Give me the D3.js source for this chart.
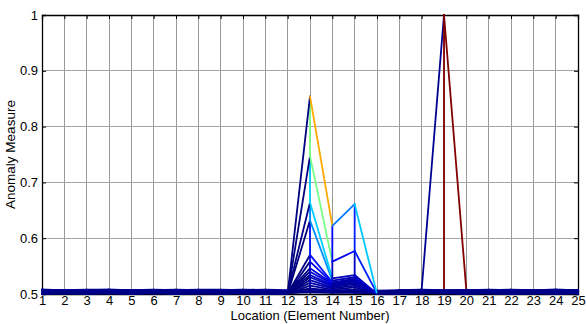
<!DOCTYPE html>
<html>
<head>
<meta charset="utf-8">
<script src="https://cdn.jsdelivr.net/npm/d3@7"></script>
<style>
  html, body { margin: 0; padding: 0; background: #fff; }
  svg { display: block; font-family: "Liberation Sans", Arial, sans-serif; }
</style>
</head>
<body>
<svg id="chart" width="586" height="324"></svg>
<script>
// Element locations along the structure (x axis)
const locations = [1,2,3,4,5,6,7,8,9,10,11,12,13,14,15,16,17,18,19,20,21,22,23,24,25];
const xTickLabels = ["1","2","3","4","5","6","7","8","9","10","11","12","13","14","15","16","17","18","19","20","21","22","23","24","25"];
const yTicks = [0.5, 0.6, 0.7, 0.8, 0.9, 1];
const yTickLabels = ["0.5", "0.6", "0.7", "0.8", "0.9", "1"];

// Anomaly measure per location, one array per time step (mesh rows, in order)
const step01 = [0.506,0.505,0.506,0.505,0.506,0.505,0.506,0.505,0.506,0.505,0.506,0.505,0.505,0.504,0.505,0.504,0.505,0.508,1.000,0.507,0.505,0.506,0.505,0.506,0.505];
const step02 = [0.503,0.502,0.503,0.503,0.502,0.503,0.502,0.503,0.503,0.502,0.503,0.502,0.503,0.502,0.503,0.502,0.503,0.502,0.504,0.502,0.503,0.502,0.503,0.502,0.503];
const step03 = [0.508,0.507,0.508,0.508,0.507,0.508,0.507,0.508,0.508,0.507,0.508,0.507,0.508,0.506,0.507,0.506,0.507,0.507,0.506,0.506,0.507,0.508,0.507,0.508,0.507];
const step04 = [0.500,0.501,0.500,0.501,0.500,0.501,0.500,0.501,0.500,0.501,0.500,0.501,0.505,0.503,0.502,0.501,0.500,0.501,0.502,0.500,0.501,0.500,0.501,0.500,0.501];
const step05 = [0.505,0.506,0.505,0.506,0.505,0.506,0.505,0.506,0.505,0.506,0.505,0.502,0.510,0.506,0.508,0.501,0.505,0.506,0.505,0.506,0.505,0.506,0.505,0.506,0.505];
const step06 = [0.502,0.501,0.502,0.501,0.502,0.501,0.502,0.501,0.502,0.501,0.502,0.501,0.515,0.508,0.512,0.500,0.502,0.501,0.502,0.501,0.502,0.501,0.502,0.501,0.502];
const step07 = [0.507,0.506,0.507,0.507,0.506,0.507,0.506,0.507,0.507,0.506,0.507,0.502,0.520,0.510,0.515,0.501,0.506,0.507,0.506,0.507,0.506,0.507,0.506,0.507,0.506];
const step08 = [0.504,0.504,0.503,0.504,0.504,0.503,0.504,0.504,0.503,0.504,0.504,0.501,0.525,0.512,0.518,0.500,0.504,0.503,0.504,0.504,0.503,0.504,0.504,0.503,0.504];
const step09 = [0.501,0.502,0.501,0.502,0.501,0.502,0.501,0.502,0.501,0.502,0.501,0.500,0.530,0.514,0.520,0.501,0.501,0.502,0.501,0.502,0.501,0.502,0.501,0.502,0.501];
const step10 = [0.506,0.507,0.506,0.507,0.506,0.507,0.506,0.507,0.506,0.507,0.506,0.502,0.534,0.516,0.522,0.500,0.506,0.507,0.506,0.507,0.506,0.507,0.506,0.507,0.506];
const step11 = [0.503,0.503,0.504,0.503,0.503,0.504,0.503,0.503,0.504,0.503,0.503,0.501,0.540,0.518,0.523,0.501,0.503,0.504,0.503,0.503,0.504,0.503,0.503,0.504,0.503];
const step12 = [0.508,0.507,0.507,0.508,0.507,0.507,0.508,0.507,0.507,0.508,0.507,0.502,0.546,0.519,0.524,0.500,0.507,0.508,0.507,0.507,0.508,0.507,0.507,0.508,0.507];
const step13 = [0.502,0.503,0.502,0.503,0.502,0.503,0.502,0.503,0.502,0.503,0.502,0.500,0.558,0.520,0.525,0.501,0.502,0.503,0.502,0.503,0.502,0.503,0.502,0.503,0.502];
const step14 = [0.505,0.505,0.506,0.505,0.505,0.506,0.505,0.505,0.506,0.505,0.505,0.501,0.570,0.521,0.527,0.500,0.505,0.506,0.505,0.505,0.506,0.505,0.505,0.506,0.505];
const step15 = [0.501,0.501,0.502,0.501,0.501,0.502,0.501,0.501,0.502,0.501,0.501,0.500,0.632,0.524,0.530,0.501,0.501,0.502,0.501,0.501,0.502,0.501,0.501,0.502,0.501];
const step16 = [0.507,0.506,0.506,0.507,0.506,0.506,0.507,0.506,0.506,0.507,0.506,0.501,0.664,0.528,0.534,0.500,0.506,0.507,0.506,0.506,0.507,0.506,0.506,0.507,0.506];
const step17 = [0.504,0.503,0.504,0.504,0.503,0.504,0.504,0.503,0.504,0.504,0.503,0.500,0.747,0.558,0.577,0.501,0.504,0.503,0.504,0.504,0.503,0.504,0.504,0.503,0.504];
const step18 = [0.502,0.502,0.503,0.502,0.502,0.503,0.502,0.502,0.503,0.502,0.502,0.501,0.854,0.622,0.661,0.500,0.502,0.503,0.502,0.502,0.503,0.502,0.502,0.503,0.502];

const steps = [step01, step02, step03, step04, step05, step06, step07, step08, step09,
               step10, step11, step12, step13, step14, step15, step16, step17, step18];

const svg = d3.select("#chart");
const W = 586, H = 324;
const plot = { left: 42, right: 578, top: 15, bottom: 294 };

const x = d3.scaleLinear().domain([1, 25]).range([plot.left, plot.right]);
const y = d3.scaleLinear().domain([0.5, 1]).range([plot.bottom, plot.top]);

// jet colormap over the value range of the axis
function jet(v) {
  const t = Math.max(0, Math.min(1, (v - 0.5) / 0.5));
  const c = k => Math.round(255 * Math.max(0, Math.min(1, k)));
  const r = c(Math.min(4 * t - 1.5, -4 * t + 4.5));
  const g = c(Math.min(4 * t - 0.5, -4 * t + 3.5));
  const b = c(Math.min(4 * t + 0.5, -4 * t + 2.5));
  return `rgb(${r},${g},${b})`;
}

svg.append("rect").attr("width", W).attr("height", H).attr("fill", "#fff");

// grid
const grid = svg.append("g");
grid.selectAll("line.vx").data(locations.slice(1, -1)).join("line")
  .attr("x1", d => x(d)).attr("x2", d => x(d))
  .attr("y1", plot.top).attr("y2", plot.bottom)
  .attr("stroke", "#999").attr("stroke-width", 1).attr("shape-rendering", "crispEdges");
grid.selectAll("line.hy").data(yTicks.slice(1, -1)).join("line")
  .attr("x1", plot.left).attr("x2", plot.right)
  .attr("y1", d => y(d)).attr("y2", d => y(d))
  .attr("stroke", "#a4a4a4").attr("stroke-width", 1).attr("shape-rendering", "crispEdges");

// axes box with inward ticks on every side
const tickLen = 4;
const axTop = svg.append("g").attr("transform", `translate(0,${plot.top})`)
  .call(d3.axisTop(x).tickValues(locations).tickSize(-tickLen).tickFormat(""));
const axRight = svg.append("g").attr("transform", `translate(${plot.right},0)`)
  .call(d3.axisRight(y).tickValues(yTicks).tickSize(-tickLen).tickFormat(""));
const axLeft = svg.append("g").attr("transform", `translate(${plot.left},0)`)
  .call(d3.axisLeft(y).tickValues(yTicks).tickSize(-tickLen).tickPadding(4)
    .tickFormat((d, i) => yTickLabels[i]));
const axBottom = svg.append("g").attr("transform", `translate(0,${plot.bottom})`)
  .call(d3.axisBottom(x).tickValues(locations).tickSize(-tickLen).tickPadding(2)
    .tickFormat((d, i) => xTickLabels[i]));

[axTop, axRight, axLeft, axBottom].forEach(g => {
  g.selectAll(".domain").attr("stroke", "#000").attr("stroke-width", 1.3);
  g.selectAll(".tick line").attr("stroke", "#000").attr("stroke-width", 1);
  g.selectAll("text").attr("fill", "#000").attr("font-size", 13)
    .attr("font-family", "'Liberation Sans', Arial, sans-serif");
});
axBottom.selectAll("text").attr("dy", "0.71em");

// mesh edges: along location within each step, and across steps at each location
const segs = [];
steps.forEach((row, r) => {
  for (let i = 0; i < row.length - 1; i++) {
    segs.push({ x1: locations[i], v1: row[i], x2: locations[i + 1], v2: row[i + 1], c: row[i] });
  }
  const next = steps[r + 1];
  if (next) {
    for (let i = 0; i < row.length; i++) {
      if (row[i] !== next[i]) {
        segs.push({ x1: locations[i], v1: row[i], x2: locations[i], v2: next[i], c: row[i] });
      }
    }
  }
});

svg.append("g").selectAll("line").data(segs).join("line")
  .attr("x1", d => x(d.x1)).attr("y1", d => y(d.v1))
  .attr("x2", d => x(d.x2)).attr("y2", d => y(d.v2))
  .attr("stroke", d => jet(d.c))
  .attr("stroke-width", 1.8)
  .attr("stroke-linecap", "round");

// axis titles
svg.append("text")
  .attr("x", (plot.left + plot.right) / 2).attr("y", 320)
  .attr("text-anchor", "middle").attr("font-size", 13)
  .text("Location (Element Number)");
svg.append("text")
  .attr("transform", `translate(15,${(plot.top + plot.bottom) / 2}) rotate(-90)`)
  .attr("text-anchor", "middle").attr("font-size", 13.5)
  .text("Anomaly Measure");
</script>
</body>
</html>
